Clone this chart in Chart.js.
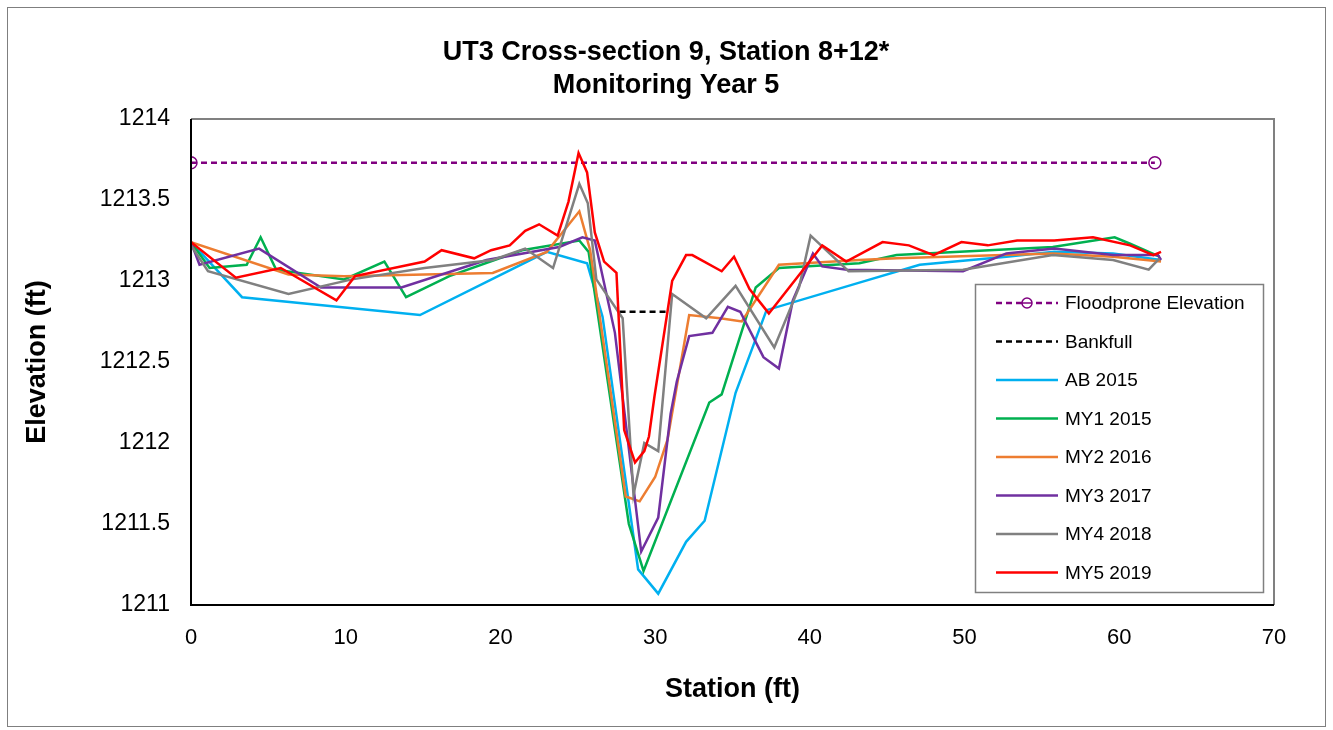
<!DOCTYPE html>
<html lang="en">
<head>
<meta charset="UTF-8">
<title>UT3 Cross-section 9</title>
<script src="https://cdn.jsdelivr.net/npm/chart.js"></script>
<style>
  html, body { margin: 0; padding: 0; background: #fff; }
  #wrap { width: 1333px; height: 730px; }
</style>
</head>
<body>
<div id="wrap"><canvas id="xs"></canvas></div>
<script>
// station (ft) / elevation (ft)
const floodX = [0, 62.3];
const floodY = [1213.73, 1213.73];

const bankX = [27.7, 30.8];
const bankY = [1212.81, 1212.81];

const ab15X = [0, 3.3, 14.8, 23.0, 25.6, 26.6, 28.9, 30.2, 32.0, 33.2, 35.2, 37.2, 43.2, 47.1, 52.7, 55.8, 59.6, 62.7];
const ab15Y = [1213.24, 1212.90, 1212.79, 1213.18, 1213.11, 1212.78, 1211.22, 1211.07, 1211.39, 1211.52, 1212.31, 1212.82, 1212.99, 1213.10, 1213.15, 1213.18, 1213.17, 1213.13];

const my1X = [0, 1.2, 3.6, 4.5, 5.5, 9.9, 12.5, 13.9, 16.7, 21.4, 25.1, 25.7, 28.3, 29.25, 33.5, 34.3, 36.5, 38.0, 43.2, 45.6, 49.7, 55.7, 59.7, 60.7, 62.6];
const my1Y = [1213.24, 1213.08, 1213.10, 1213.27, 1213.07, 1213.01, 1213.12, 1212.90, 1213.03, 1213.19, 1213.25, 1213.18, 1211.50, 1211.21, 1212.25, 1212.30, 1212.96, 1213.08, 1213.11, 1213.16, 1213.18, 1213.21, 1213.27, 1213.23, 1213.15];

const my2X = [0, 6.3, 9.9, 15.1, 19.5, 23.0, 25.1, 25.8, 28.1, 29.0, 30.0, 30.8, 32.2, 34.2, 35.6, 38.0, 43.2, 45.6, 55.7, 59.6, 62.7];
const my2Y = [1213.24, 1213.04, 1213.03, 1213.04, 1213.05, 1213.18, 1213.43, 1213.19, 1211.67, 1211.64, 1211.79, 1212.02, 1212.79, 1212.77, 1212.75, 1213.10, 1213.13, 1213.14, 1213.17, 1213.15, 1213.12];

const my3X = [0, 0.55, 4.4, 8.4, 13.6, 19.1, 23.8, 25.3, 26.1, 27.4, 29.1, 30.2, 31.0, 31.4, 32.2, 33.7, 34.7, 35.5, 37.0, 38.0, 38.9, 40.2, 40.8, 42.4, 49.9, 52.7, 55.8, 59.6, 62.5, 62.7];
const my3Y = [1213.24, 1213.10, 1213.20, 1212.96, 1212.96, 1213.13, 1213.21, 1213.27, 1213.25, 1212.68, 1211.33, 1211.54, 1212.18, 1212.38, 1212.66, 1212.68, 1212.84, 1212.81, 1212.53, 1212.46, 1212.88, 1213.17, 1213.09, 1213.07, 1213.06, 1213.17, 1213.20, 1213.16, 1213.16, 1213.13];

const my4X = [0, 1.1, 6.3, 10.4, 15.1, 19.5, 21.6, 23.4, 25.1, 25.65, 26.2, 27.9, 28.6, 29.3, 30.2, 31.1, 33.3, 35.2, 37.7, 39.3, 40.05, 42.5, 49.9, 55.7, 59.6, 61.9, 62.6];
const my4Y = [1213.22, 1213.06, 1212.92, 1213.01, 1213.08, 1213.13, 1213.20, 1213.08, 1213.60, 1213.48, 1213.01, 1212.77, 1211.68, 1212.00, 1211.95, 1212.92, 1212.77, 1212.97, 1212.59, 1212.96, 1213.28, 1213.06, 1213.07, 1213.16, 1213.13, 1213.07, 1213.14];

const my5X = [0, 2.9, 5.8, 9.4, 10.6, 15.1, 16.2, 18.3, 19.4, 20.6, 21.6, 22.5, 23.7, 24.4, 25.05, 25.6, 26.1, 26.7, 27.5, 28.0, 28.7, 29.3, 29.6, 29.96, 31.1, 32.0, 32.4, 34.3, 35.1, 36.1, 37.35, 40.8, 42.35, 44.7, 46.4, 48.0, 49.8, 51.5, 53.4, 55.8, 58.3, 60.7, 62.2, 62.7];
const my5Y = [1213.24, 1213.02, 1213.08, 1212.88, 1213.03, 1213.12, 1213.19, 1213.14, 1213.19, 1213.22, 1213.31, 1213.35, 1213.28, 1213.49, 1213.79, 1213.67, 1213.30, 1213.12, 1213.05, 1212.08, 1211.88, 1211.95, 1212.04, 1212.29, 1213.00, 1213.16, 1213.16, 1213.06, 1213.15, 1212.95, 1212.80, 1213.22, 1213.12, 1213.24, 1213.22, 1213.16, 1213.24, 1213.22, 1213.25, 1213.25, 1213.27, 1213.22, 1213.16, 1213.18];

const seriesNames = ['Floodprone Elevation', 'Bankfull', 'AB 2015', 'MY1 2015', 'MY2 2016', 'MY3 2017', 'MY4 2018', 'MY5 2019'];
const seriesColors = ['#800080', '#000000', '#00B0F0', '#00B050', '#ED7D31', '#7030A0', '#808080', '#FF0000'];

const xTicks = [0, 10, 20, 30, 40, 50, 60, 70];
const yTicks = [1211, 1211.5, 1212, 1212.5, 1213, 1213.5, 1214];

function pts(xs, ys) {
    return xs.map((x, i) => ({ x: x, y: ys[i] }));
}

const allX = [floodX, bankX, ab15X, my1X, my2X, my3X, my4X, my5X];
const allY = [floodY, bankY, ab15Y, my1Y, my2Y, my3Y, my4Y, my5Y];

const datasets = seriesNames.map((name, i) => ({
    label: name,
    data: pts(allX[i], allY[i]),
    borderColor: seriesColors[i],
    backgroundColor: seriesColors[i],
    borderWidth: 2.5,
    borderDash: i < 2 ? [6, 4] : [],
    pointRadius: i === 0 ? 6 : 0,
    pointHoverRadius: 0,
    pointStyle: 'circle',
    pointBorderColor: seriesColors[i],
    pointBackgroundColor: 'rgba(0,0,0,0)',
    pointBorderWidth: 1.5,
    tension: 0,
    fill: false,
    order: 10 - i
}));

// frame, titles and the boxed legend like the Excel original
const decor = {
    id: 'decor',
    beforeDraw(chart) {
        const c = chart.ctx;
        c.save();
        c.fillStyle = '#fff';
        c.fillRect(0, 0, chart.width, chart.height);
        c.strokeStyle = '#7f7f7f';
        c.lineWidth = 1;
        c.strokeRect(7.5, 7.5, 1318, 719);
        c.restore();
    },
    afterDraw(chart) {
        const c = chart.ctx;
        const a = chart.chartArea;
        c.save();
        // gray top/right frame, black left/bottom axes
        c.lineWidth = 2;
        c.strokeStyle = '#808080';
        c.beginPath();
        c.moveTo(a.left, a.top);
        c.lineTo(a.right, a.top);
        c.lineTo(a.right, a.bottom);
        c.stroke();
        c.strokeStyle = '#000';
        c.beginPath();
        c.moveTo(a.left, a.top);
        c.lineTo(a.left, a.bottom);
        c.lineTo(a.right, a.bottom);
        c.stroke();

        c.fillStyle = '#000';
        c.textAlign = 'center';
        c.textBaseline = 'middle';
        c.font = 'bold 27px "Liberation Sans", Arial, sans-serif';
        c.fillText('UT3 Cross-section 9, Station 8+12*', 666, 53);
        c.fillText('Monitoring Year 5', 666, 86);

        // legend
        const lx = 975.5, ly = 284.5, lw = 288, lh = 308;
        c.fillStyle = '#fff';
        c.fillRect(lx, ly, lw, lh);
        c.strokeStyle = '#808080';
        c.lineWidth = 1.5;
        c.strokeRect(lx, ly, lw, lh);
        c.font = '19px "Liberation Sans", Arial, sans-serif';
        c.textAlign = 'left';
        chart.data.datasets.forEach((ds, i) => {
            const y = 303 + i * 38.5;
            c.strokeStyle = ds.borderColor;
            c.lineWidth = 2.5;
            c.setLineDash(ds.borderDash);
            c.beginPath();
            c.moveTo(996, y);
            c.lineTo(1058, y);
            c.stroke();
            c.setLineDash([]);
            if (ds.pointRadius > 0) {
                c.lineWidth = 1.5;
                c.fillStyle = '#fff';
                c.beginPath();
                c.arc(1027, y, 5, 0, Math.PI * 2);
                c.fill();
                c.stroke();
                c.beginPath();
                c.moveTo(1022, y);
                c.lineTo(1032, y);
                c.stroke();
            }
            c.fillStyle = '#000';
            c.fillText(ds.label, 1065, y + 1);
        });
        c.restore();
    }
};

new Chart(document.getElementById('xs'), {
    type: 'line',
    data: { datasets: datasets },
    plugins: [decor],
    options: {
        responsive: true,
        maintainAspectRatio: false,
        animation: false,
        layout: { padding: { top: 119, right: 59, left: 0, bottom: 0 } },
        plugins: {
            legend: { display: false },
            title: { display: false },
            tooltip: { enabled: false }
        },
        scales: {
            x: {
                type: 'linear',
                min: 0,
                max: 70,
                afterBuildTicks: s => { s.ticks = xTicks.map(v => ({ value: v })); },
                afterFit: s => { s.height = 125; },
                grid: { display: false, drawTicks: true, tickLength: 7, tickColor: '#000' },
                border: { display: false },
                ticks: {
                    color: '#000',
                    padding: 13,
                    font: { family: '"Liberation Sans", Arial, sans-serif', size: 22 }
                },
                title: {
                    display: true,
                    text: 'Station (ft)',
                    color: '#000',
                    padding: { bottom: 24 },
                    font: { family: '"Liberation Sans", Arial, sans-serif', size: 27, weight: 'bold' }
                }
            },
            y: {
                min: 1211,
                max: 1214,
                afterBuildTicks: s => { s.ticks = yTicks.map(v => ({ value: v })); },
                afterFit: s => { s.width = 191; },
                grid: { display: false, drawTicks: true, tickLength: 7, tickColor: '#000' },
                border: { display: false },
                ticks: {
                    color: '#000',
                    padding: 14,
                    font: { family: '"Liberation Sans", Arial, sans-serif', size: 23 },
                    callback: v => String(v)
                },
                title: {
                    display: true,
                    text: 'Elevation (ft)',
                    color: '#000',
                    padding: { top: 21 },
                    font: { family: '"Liberation Sans", Arial, sans-serif', size: 27, weight: 'bold' }
                }
            }
        }
    }
});
</script>
</body>
</html>
